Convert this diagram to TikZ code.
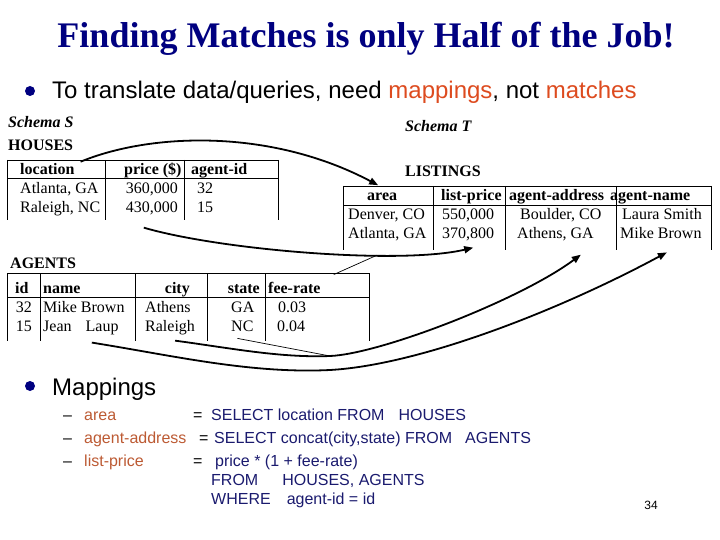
\documentclass[tikz,border=0pt]{standalone}
\usepackage{fontspec}
\setmainfont{Liberation Serif}
\setsansfont{Liberation Sans}
\usepackage{tikz}
\usetikzlibrary{arrows.meta}
\definecolor{slnavy}{HTML}{000080}
\definecolor{slorange}{HTML}{DD4B1F}
\definecolor{slbrown}{HTML}{BC5A33}
\definecolor{sqlnavy}{HTML}{1A1A6E}
\tikzset{
  btext/.style   = {font=\sffamily\fontsize{24}{28}\selectfont, inner sep=0pt,
                    anchor=base west},
  bdot/.style    = {circle, fill=slnavy, inner sep=0pt, minimum size=10pt},
  tcell/.style   = {font=\fontsize{16}{18}\selectfont, inner sep=0pt,
                    anchor=base west},
  tcellr/.style  = {tcell, anchor=base east},
  thead/.style   = {tcell, font=\fontsize{16}{18}\selectfont\bfseries},
  theadr/.style  = {thead, anchor=base east},
  schema/.style  = {tcell, font=\fontsize{16}{18}\selectfont\bfseries\itshape},
  trule/.style   = {line width=0.8pt},
  maparr/.style  = {-{Triangle[length=9pt,width=7pt]}, line width=1.8pt},
  mapthin/.style = {line width=0.7pt},
  sqltxt/.style  = {font=\sffamily\fontsize{16}{19}\selectfont, text=sqlnavy,
                    inner sep=0pt, anchor=base west},
  maplab/.style  = {sqltxt, text=slbrown},
  mapeq/.style   = {sqltxt, text=black},
}

\begin{document}
\begin{tikzpicture}[x=1pt, y=-1pt]
  \useasboundingbox (0,0) rectangle (720,540);
  \node[font=\bfseries\fontsize{36}{40}\selectfont, text=slnavy, anchor=base]
    (title) at (366,48) {Finding Matches is only Half of the Job!};
  \node[bdot] (dotA) at (30,91) {};
  \node[btext] (intro) at (52,99) {To translate data/queries, need
    \textcolor{slorange}{mappings}, not \textcolor{slorange}{matches}};

  % source schema: HOUSES
  \node[schema] (schS) at (8,128) {Schema S};
  \node[thead] (houses) at (8,151) {HOUSES};
  \draw[trule] (7,160) -- (278,160) (7,178) -- (278,178);
  \foreach \x in {7,105,184,278}
    \draw[trule] (\x,160) -- (\x,220);
  \node[thead] (hloc) at (20,175) {location};
  \node[thead] (hprice) at (124,175) {price (\$)};
  \node[thead] (hagid) at (191,175) {agent-id};
  \node[tcell] (hloc1) at (20,194) {Atlanta, GA};
  \node[tcell] (hloc2) at (20,213) {Raleigh, NC};
  \node[tcellr] (hpr1) at (178,194) {360,000};
  \node[tcellr] (hpr2) at (178,213) {430,000};
  \node[tcell] (hid1) at (197,194) {32};
  \node[tcell] (hid2) at (197,213) {15};

  % target schema: LISTINGS
  \node[schema] (schT) at (405,132) {Schema T};
  \node[thead] (listings) at (405,177) {LISTINGS};
  \draw[trule] (343,186) -- (711,186) (343,205) -- (711,205);
  \foreach \x in {343,433,505,616,711}
    \draw[trule] (\x,186) -- (\x,250);
  \node[thead] (larea) at (367,201) {area};
  \node[thead] (lprice) at (441,201) {list-price};
  \node[thead] (laddr) at (509,201) {agent-address};
  \node[thead] (lname) at (610,201) {agent-name};
  \node[tcell] (la1) at (348,220) {Denver, CO};
  \node[tcell] (la2) at (348,239) {Atlanta, GA};
  \node[tcell] (lp1) at (442,220) {550,000};
  \node[tcell] (lp2) at (442,239) {370,800};
  \node[tcell] (ld1) at (520,220) {Boulder, CO};
  \node[tcell] (ld2) at (517,239) {Athens, GA};
  \node[tcell] (ln1) at (622,220) {Laura Smith};
  \node[tcell] (ln2) at (620,239) {Mike Brown};

  % source schema: AGENTS
  \node[thead] (agents) at (10,268) {AGENTS};
  \draw[trule] (7,273) -- (369,273) (7,297) -- (369,297);
  \foreach \x in {7,40,135,207,265,369}
    \draw[trule] (\x,273) -- (\x,341);
  \node[thead] (aid) at (15,293) {id};
  \node[thead] (aname) at (43,293) {name};
  \node[theadr] (acity) at (190,293) {city};
  \node[theadr] (astate) at (260,293) {state};
  \node[thead] (afee) at (268,293) {fee-rate};
  \node[tcellr] (ai1) at (32,312) {32};
  \node[tcellr] (ai2) at (32,331) {15};
  \node[tcell] (an1) at (43,312) {Mike Brown};
  \node[tcell] (an2) at (43,331) {Jean\hspace{14pt}Laup};
  \node[tcell] (ac1) at (145,312) {Athens};
  \node[tcell] (ac2) at (145,331) {Raleigh};
  \node[tcell] (as1) at (231,312) {GA};
  \node[tcell] (as2) at (231,331) {NC};
  \node[tcell] (af1) at (278,312) {0.03};
  \node[tcell] (af2) at (277,331) {0.04};

  % correspondences
  \draw[maparr] ([xshift=6pt,yshift=2pt]hloc.north east)
    .. controls (150,133) and (270,128) .. ([xshift=-4pt,yshift=8pt]larea.north);
  \draw[maparr] ([xshift=-8pt,yshift=-12pt]hpr2.south)
    .. controls (220,250) and (400,265) .. coordinate[pos=0.68] (feejoin)
    ([xshift=5pt,yshift=-6pt]lp2.south);
  \draw[mapthin] ([xshift=13pt,yshift=7pt]afee.north east) -- (feejoin);
  \draw[maparr] ([xshift=5pt,yshift=-6pt]ac2.south)
    .. controls (230,348) and (280,358) .. (330,356) coordinate (ncjoin)
    .. controls (380,354) and (520,300) .. ([xshift=-13pt,yshift=-13pt]ld2.south east);
  \draw[mapthin] ([xshift=-5pt,yshift=-7pt]as2.south) -- (ncjoin);
  \draw[maparr] ([xshift=11pt,yshift=-8pt]an2.south)
    .. controls (170,355) and (250,374) .. (330,370)
    .. controls (420,365) and (560,310) .. ([xshift=6pt,yshift=-13pt]ln2.south);

  % mappings
  \node[bdot] (dotB) at (30,386) {};
  \node[btext] (maphead) at (52,395) {Mappings};
  \foreach \y/\lab/\n in {420/area/1, 443/agent-address/2, 466/list-price/3}{%
    \node[mapeq] (dash\n) at (63,\y) {--};
    \node[maplab] (mlab\n) at (84,\y) {\lab};}
  \node[mapeq] (eq1) at (193,420) {=};
  \node[mapeq] (eq2) at (199,443) {=};
  \node[mapeq] (eq3) at (193,466) {=};
  \node[sqltxt] (sql1) at (211,420) {SELECT location FROM\hspace{14pt}HOUSES};
  \node[sqltxt] (sql2) at (214,443) {SELECT concat(city,state) FROM\hspace{13pt}AGENTS};
  \node[sqltxt] (sql3) at (215,466) {price * (1 + fee-rate)};
  \node[sqltxt] (sql4) at (211,485) {FROM\hspace{24pt}HOUSES, AGENTS};
  \node[sqltxt] (sql5) at (211,504) {WHERE\hspace{16pt}agent-id = id};
  \node[font=\sffamily\fontsize{12}{14}\selectfont, anchor=base] (pageno)
    at (651,509) {34};
\end{tikzpicture}
\end{document}
